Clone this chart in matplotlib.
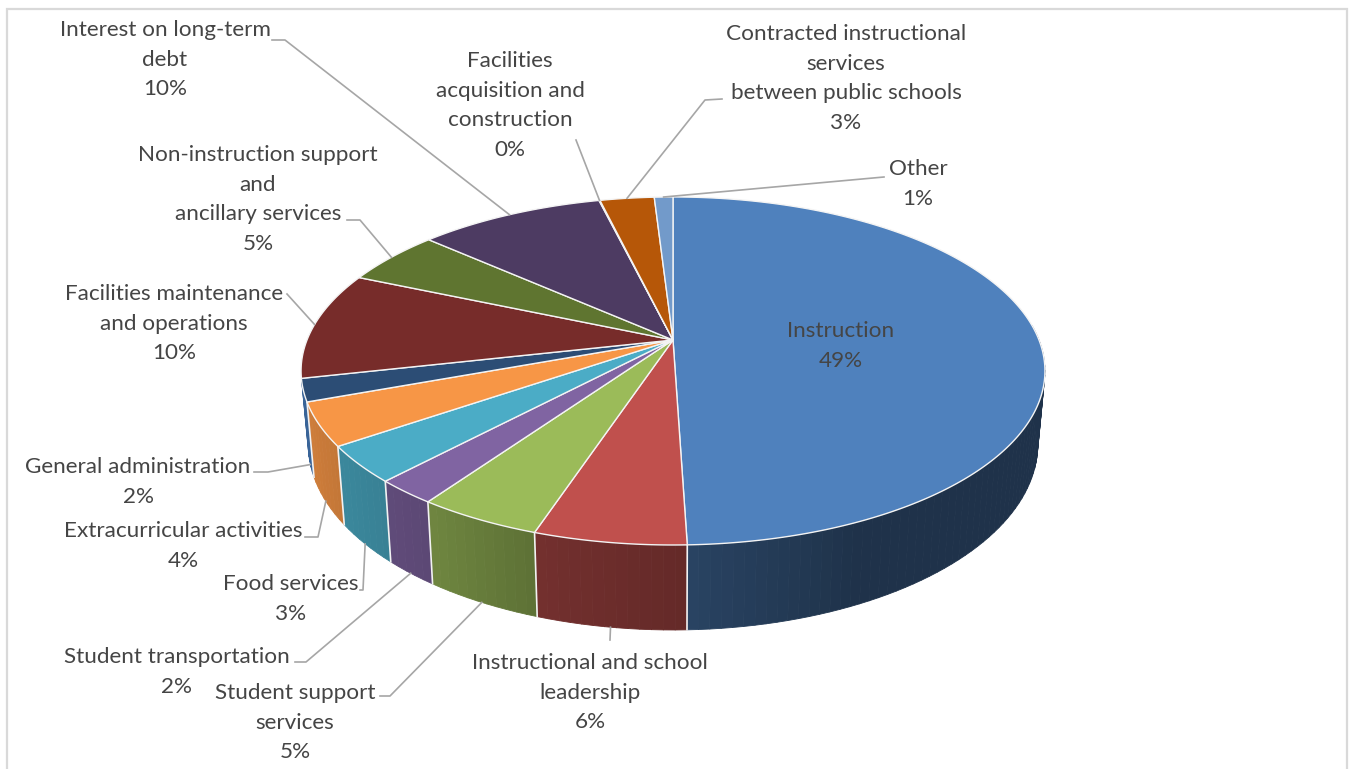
import numpy as np
import matplotlib
matplotlib.use('Agg')
import matplotlib.pyplot as plt
from matplotlib.collections import PolyCollection
from matplotlib.colors import to_rgb
from matplotlib.patches import Polygon, Rectangle

# Share of spending per category, clockwise from twelve o'clock
categories = [
    'Instruction',
    'Instructional and school\nleadership',
    'Student support\nservices',
    'Student transportation',
    'Food services',
    'Extracurricular activities',
    'General administration',
    'Facilities maintenance\nand operations',
    'Non-instruction support\nand\nancillary services',
    'Interest on long-term\ndebt',
    'Facilities\nacquisition and\nconstruction',
    'Contracted instructional\nservices\nbetween public schools',
    'Other',
]
values = [49.49, 5.6, 4.6, 2.3, 3.4, 4.0, 2.1, 10.0, 5.1, 9.6, 0.05, 2.8, 0.96]
colors = ['#4f81bd', '#c0504d', '#9bbb59', '#8064a2', '#4bacc6', '#f79646', '#2c4d75',
          '#772c2a', '#5f7530', '#4d3b62', '#276a7c', '#b65708', '#729aca']

# Label block: centre x and y of the first line
label_pos = [(841, 331), (590, 663), (295, 693), (177, 657), (291, 584), (183, 531),
             (138, 467), (174, 294), (258, 155), (165, 30), (510, 61), (846, 34), (918, 169)]
line_pitch = 29.7

# Leader line start (near the label) and elbow; None means no leader
leader_start = [None, (610, 640), (380, 696), (295, 662), (360, 590), (305, 537), (254, 472),
                (287, 294), (347, 220), (272, 40), (576, 140), (722, 99), (884, 177)]
leader_elbow = [None, None, (390, 696), (306, 662), (363, 590), (318, 537), (268, 472),
                None, (360, 220), (285, 40), None, (705, 100), None]
leader_on_wall = [False, True, True, True, True, True, True,
                  False, False, False, False, False, False]

# Perspective of the pie's top and bottom discs
top_plane = dict(cx=673, cy=340, a=366, b=168.5, k=0.178)
bottom_plane = dict(cx=673, cy=411, a=359, b=180, k=0.178)


def project(theta, plane):
    """Map clockwise degrees from the top of the disc to figure pixels."""
    t = np.radians(theta)
    u, v = np.sin(t), np.cos(t)
    w = 1 + plane['k'] * v
    return plane['cx'] + plane['a'] * u / w, plane['cy'] - plane['b'] * v / w


def wall_shade(theta):
    return np.interp(theta, [90, 155, 178, 198, 215, 250, 270],
                     [0.39, 0.39, 0.52, 0.60, 0.72, 0.84, 0.86])


fig = plt.figure(figsize=(13.51, 7.69), dpi=100)
ax = fig.add_axes([0, 0, 1, 1])
ax.set_xlim(0, 1351)
ax.set_ylim(769, 0)
ax.axis('off')

ax.add_patch(Rectangle((6.5, 8.5), 1340, 800, facecolor='white', edgecolor='#d9d9d9', lw=1.6))

shares = np.array(values) / sum(values) * 360
ends = np.cumsum(shares)
starts = ends - shares

# Side wall, built from thin strips so the shading can vary along the rim.
# It stops at the seventh slice, the ones after it face away from the viewer.
quads, quad_colors = [], []
for start, end, color in zip(starts[:7], ends[:7], colors[:7]):
    lo, hi = max(start, 85), end
    steps = max(int((hi - lo) / 1.5), 1)
    grid = np.linspace(lo, hi, steps + 1)
    base = np.array(to_rgb(color))
    for t0, t1 in zip(grid[:-1], grid[1:]):
        x0, y0 = project(t0, top_plane)
        x1, y1 = project(t1, top_plane)
        x2, y2 = project(t1, bottom_plane)
        x3, y3 = project(t0, bottom_plane)
        quads.append([(x0, y0), (x1, y1), (x2, y2), (x3, y3)])
        shade = wall_shade((t0 + t1) / 2)
        if color == '#2c4d75':
            shade = 1.3
        quad_colors.append(np.clip(base * shade, 0, 1))
ax.add_collection(PolyCollection(quads, facecolors=quad_colors, edgecolors=quad_colors,
                                 linewidths=0.6, zorder=2))

# White seams between wall segments
for angle in ends[:6]:
    x_t, y_t = project(angle, top_plane)
    x_b, y_b = project(angle, bottom_plane)
    ax.plot([x_t, x_b], [y_t, y_b], color='#f2f2f2', lw=1.2, zorder=3)

# Top face of each slice
for start, end, color in zip(starts, ends, colors):
    arc = np.linspace(start, end, max(int(end - start) * 2, 2))
    xs, ys = project(arc, top_plane)
    apex = (top_plane['cx'], top_plane['cy'])
    ax.add_patch(Polygon(np.column_stack([np.r_[apex[0], xs], np.r_[apex[1], ys]]),
                         closed=True, facecolor=color, edgecolor='#f4f4f4', lw=1.0, zorder=4))

# Leader lines run from the label to the middle of the slice's rim
for i, (start, end) in enumerate(zip(starts, ends)):
    if leader_start[i] is None:
        continue
    plane = bottom_plane if leader_on_wall[i] else top_plane
    tip = project((start + end) / 2, plane)
    pts = [leader_start[i]] + ([leader_elbow[i]] if leader_elbow[i] else []) + [tip]
    ax.plot(*zip(*pts), color='#a6a6a6', lw=1.2, zorder=5, solid_joinstyle='round')

# Category name with the rounded share on the last line
for name, value, (x, y) in zip(categories, values, label_pos):
    lines = name.split('\n') + [f'{value:.0f}%']
    for j, line in enumerate(lines):
        ax.text(x, y + j * line_pitch, line, ha='center', va='center', family='Lato',
                fontsize=16.2, color='#454545', zorder=6)

fig.savefig('out.png', dpi=100)
